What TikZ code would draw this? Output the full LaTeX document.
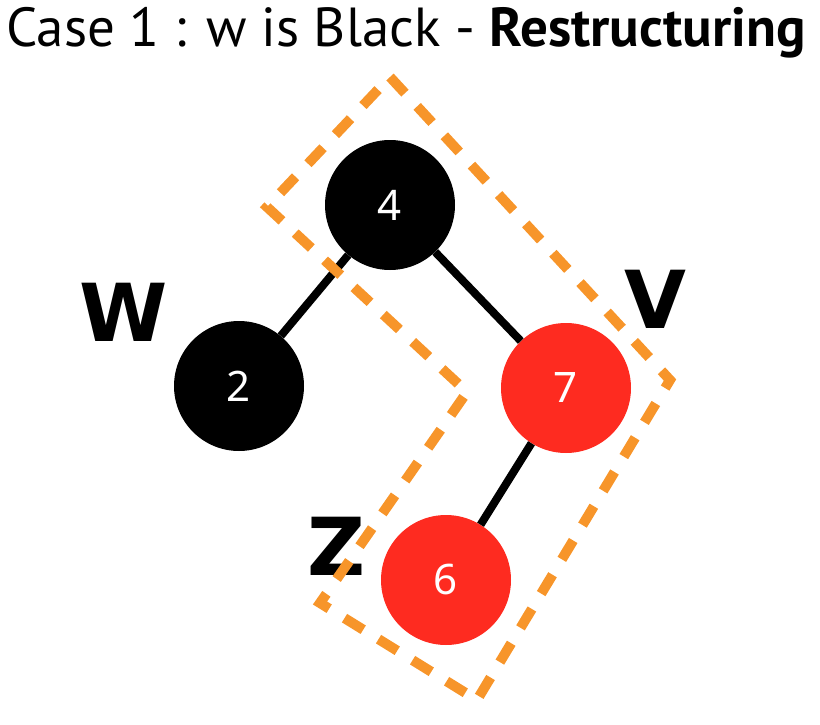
\documentclass[tikz,border=0pt]{standalone}
\usepackage{fontspec}
\setmainfont{PT Sans}
\newfontfamily\letterfont{DejaVu Sans}
\newfontfamily\digitfont{Noto Sans}
\usetikzlibrary{positioning}
\definecolor{nodered}{RGB}{254,43,32}
\definecolor{dashorange}{RGB}{247,149,42}

\tikzset{
  blacknode/.style={circle, fill=black, minimum size=130pt, inner sep=0pt, text=white, font=\digitfont\fontsize{42}{42}\selectfont},
  rednode/.style={blacknode, fill=nodered},
  treeedge/.style={line width=8pt},
  bigletter/.style={font=\letterfont\bfseries\fontsize{80}{80}\selectfont},
  groupline/.style={dashorange, line width=10pt, dash pattern=on 22pt off 18pt}
}

\begin{document}
\begin{tikzpicture}[x=1pt,y=-1pt]
\useasboundingbox (0,0) rectangle (820,725);

\node (title) at (406,33) {\fontsize{55}{55}\selectfont Case 1 : w is Black - \textbf{Restructuring}};

% tree
\node[blacknode] (n4) at (390,205) {4};
\node[blacknode] (n2) at (239,386) {2};
\node[rednode] (n7) at (566,388) {7};
\node[rednode] (n6) at (446,580) {6};

\draw[treeedge] (n4) -- (n2);
\draw[treeedge] (n4) -- (n7);
\draw[treeedge] (n7) -- (n6);

\node[bigletter] (w) at (124,312) {W};
\node[bigletter] (v) at (655,299) {V};
\node[bigletter] (z) at (337,546) {Z};

% restructured part
\draw[groupline] (390,77) -- (670,380) -- (477,700) -- (320,603) -- (467,392) -- (267,207) -- cycle;
\end{tikzpicture}
\end{document}
